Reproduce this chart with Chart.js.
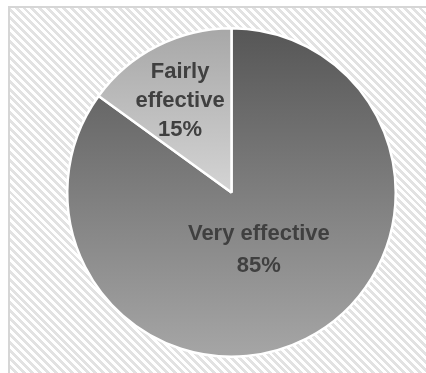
<!DOCTYPE html>
<html>
<head>
<meta charset="utf-8">
<script src="https://cdn.jsdelivr.net/npm/chart.js@4"></script>
<style>
    html, body { margin: 0; padding: 0; background: #fff; overflow: hidden; }
    body { width: 426px; height: 373px; position: relative; }
    #frame {
        position: absolute; left: 8px; top: 6px; width: 430px; height: 380px;
        border: 2px solid #d6d6d6;
        background: repeating-linear-gradient(45deg, #ffffff 0px, #ffffff 2.8px, #e2e2e2 2.8px, #e2e2e2 5.6px);
    }
    #chart { position: absolute; left: 0; top: 0; }
</style>
</head>
<body>
<div id="frame"></div>
<canvas id="chart" width="426" height="373"></canvas>
<script>
    // Chart data
    const categories = ['Very effective', 'Fairly effective'];
    const shares = [85, 15];
    const percentLabels = ['85%', '15%'];

    // top / bottom gradient colours for each slice
    const sliceTop = ['#565656', '#a7a7a7'];
    const sliceBottom = ['#a6a6a6', '#d4d4d4'];

    function sliceFill(ctx) {
        const chart = ctx.chart;
        const area = chart.chartArea;
        if (!area) return sliceTop[ctx.dataIndex];
        const i = ctx.dataIndex;
        // the small slice only covers the upper half of the pie
        const bottom = i === 0 ? area.bottom : (area.top + area.bottom) / 2;
        const g = chart.ctx.createLinearGradient(0, area.top, 0, bottom);
        g.addColorStop(0, sliceTop[i]);
        g.addColorStop(1, sliceBottom[i]);
        return g;
    }

    // Draws "category / percent" inside each slice
    const sliceLabels = {
        id: 'sliceLabels',
        afterDatasetsDraw(chart, args, opts) {
            const ctx = chart.ctx;
            const meta = chart.getDatasetMeta(0);
            ctx.save();
            ctx.fillStyle = '#404040';
            ctx.font = "bold 22px 'Liberation Sans', Arial, sans-serif";
            ctx.textAlign = 'center';
            ctx.textBaseline = 'middle';
            meta.data.forEach((arc, i) => {
                const p = arc.getProps(['x', 'y', 'startAngle', 'endAngle', 'outerRadius'], true);
                const mid = (p.startAngle + p.endAngle) / 2 + opts.turn[i];
                const r = p.outerRadius * opts.radius[i];
                const cx = p.x + Math.cos(mid) * r;
                const cy = p.y + Math.sin(mid) * r;
                const lines = opts.lines[i];
                const lh = opts.lineHeight[i];
                const y0 = cy - (lines.length - 1) * lh / 2;
                lines.forEach((t, k) => ctx.fillText(t, cx, y0 + k * lh));
            });
            ctx.restore();
        }
    };

    new Chart(document.getElementById('chart'), {
        type: 'pie',
        data: {
            labels: categories,
            datasets: [{
                data: shares,
                backgroundColor: sliceFill,
                borderColor: '#ffffff',
                borderWidth: 2.5
            }]
        },
        options: {
            responsive: false,
            devicePixelRatio: 1,
            animation: false,
            layout: { padding: { left: 66, right: 29, top: 27, bottom: 15 } },
            plugins: {
                legend: { display: false },
                tooltip: { enabled: false },
                sliceLabels: {
                    radius: [0.39, 0.64],
                    turn: [0.03, -0.04],
                    lineHeight: [32, 29],
                    lines: [
                        ['Very effective', percentLabels[0]],
                        ['Fairly', 'effective', percentLabels[1]]
                    ]
                }
            }
        },
        plugins: [sliceLabels]
    });
</script>
</body>
</html>
